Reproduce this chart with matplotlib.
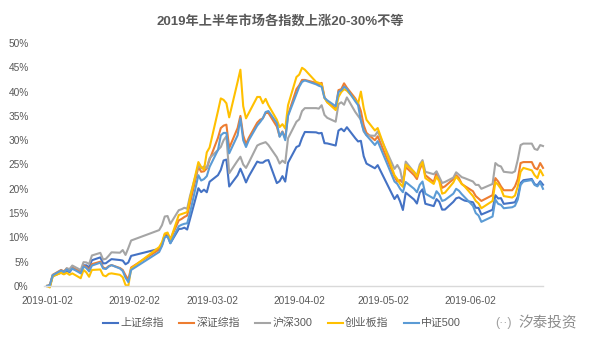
import matplotlib
matplotlib.use("Agg")
import matplotlib.pyplot as plt
import matplotlib.dates as mdates
from matplotlib.ticker import FuncFormatter
import pandas as pd

plt.rcParams['font.family'] = ['Liberation Sans', 'Noto Sans CJK SC']

# trading days, first half of 2019 (day of month per month)
jan_days = [2, 3, 4, 7, 8, 9, 10, 11, 14, 15, 16, 17, 18, 21, 22, 23, 24, 25, 28, 29, 30, 31]
feb_days = [1, 11, 12, 13, 14, 15, 18, 19, 20, 21, 22, 25, 26, 27, 28]
mar_days = [1, 4, 5, 6, 7, 8, 11, 12, 13, 14, 15, 18, 19, 20, 21, 22, 25, 26, 27, 28, 29]
apr_days = [1, 2, 3, 4, 8, 9, 10, 11, 12, 15, 16, 17, 18, 19, 22, 23, 24, 25, 26, 29, 30]
may_days = [6, 7, 8, 9, 10, 13, 14, 15, 16, 17, 20, 21, 22, 23, 24, 27, 28, 29, 30, 31]
jun_days = [3, 4, 5, 6, 10, 11, 12, 13, 14, 17, 18, 19, 20, 21, 24, 25, 26, 27, 28]

# cumulative return since 2019-01-02, in %
sh_comp = [0, -0.04, 2.01, 2.75, 2.48, 3.21, 2.83, 3.59, 2.86, 4.26, 4.26, 3.83, 5.30, 5.89, 4.64, 4.69, 5.13, 5.53, 5.34, 5.23, 4.47, 4.84,
           6.20, 7.65, 8.38, 10.38, 10.32, 8.81, 11.73, 11.78, 12.00, 11.62, 13.75, 20.12, 19.32, 19.82, 19.29,
           21.45, 22.81, 23.89, 25.83, 26.01, 20.47, 22.78, 24.14, 22.78, 21.31, 22.57, 25.60, 25.38, 25.37, 25.80, 25.91, 21.17, 21.57, 22.61, 21.48, 25.37,
           28.60, 28.86, 30.46, 31.69, 31.62, 31.41, 31.50, 29.39, 29.34, 28.90, 31.98, 32.36, 31.84, 32.67, 30.41, 29.74, 29.87, 26.71, 25.19, 24.22, 24.87,
           17.90, 18.71, 17.38, 15.64, 19.22, 17.78, 16.97, 19.20, 19.89, 16.92, 16.44, 17.88, 17.30, 15.71, 15.73, 17.32, 18.04, 18.23, 17.87, 17.58,
           17.23, 16.10, 16.07, 14.70, 15.69, 18.68, 18.01, 18.07, 16.90, 17.13, 17.23, 18.36, 21.17, 21.77, 22.02, 20.96, 20.73, 21.56, 20.83]
sz_comp = [0, 0.3, 2.3, 3.3, 3.0, 3.6, 3.2, 3.8, 2.9, 4.2, 3.9, 3.3, 4.5, 5.0, 3.8, 3.6, 4.1, 4.3, 3.7, 3.3, 2.2, 1.3,
           3.8, 7.5, 8.5, 10.6, 10.8, 9.6, 13.5, 13.8, 14.2, 14.5, 17.0, 24.5, 23.5, 23.6, 24.2,
           26.0, 30.5, 32.5, 33.0, 33.2, 28.4, 32.5, 35.0, 31.0, 29.2, 30.5, 33.6, 34.2, 34.5, 35.6, 35.6, 32.8, 30.8, 31.8, 30.4, 35.2,
           40.5, 41.3, 42.4, 42.4, 41.8, 41.5, 41.8, 38.9, 37.8, 36.5, 40.3, 40.5, 41.7, 40.8, 38.6, 37.6, 36.0, 33.1, 31.5, 30.0, 30.8,
           22.5, 21.5, 21.8, 21.2, 24.5, 22.8, 22.0, 24.0, 25.3, 22.8, 21.4, 23.4, 22.0, 20.2, 20.5, 22.0, 22.8, 22.2, 21.0, 20.6,
           19.5, 18.5, 18.0, 17.5, 18.7, 22.2, 21.5, 20.5, 19.7, 19.7, 20.5, 22.0, 25.3, 25.5, 25.5, 24.3, 24.0, 25.3, 24.3]
hs300 = [0, -0.16, 2.23, 2.85, 2.63, 3.67, 3.47, 4.21, 3.29, 4.91, 4.85, 4.52, 6.28, 6.82, 5.45, 5.60, 6.23, 6.93, 6.85, 7.40, 6.39, 7.82,
         9.36, 11.50, 12.50, 14.30, 14.40, 12.80, 15.60, 15.80, 16.10, 15.90, 18.50, 24.80, 24.20, 24.60, 24.30,
         26.30, 28.00, 28.60, 30.00, 30.80, 23.20, 25.80, 26.60, 25.00, 24.30, 25.40, 28.90, 29.20, 29.40, 29.60, 29.00, 26.50, 25.20, 25.80, 25.30, 30.40,
         33.80, 34.30, 36.00, 36.60, 36.60, 36.50, 37.20, 35.20, 34.60, 33.80, 37.40, 37.80, 37.30, 38.80, 35.80, 35.00, 34.20, 31.80, 31.00, 30.90, 31.80,
         24.10, 24.90, 23.90, 21.20, 25.60, 23.40, 22.80, 25.00, 25.90, 23.50, 23.00, 23.60, 22.40, 21.20, 21.40, 22.30, 23.40, 22.90, 22.40, 22.20,
         21.50, 20.80, 20.80, 20.00, 21.00, 25.30, 24.80, 24.60, 23.50, 23.30, 23.60, 26.00, 29.00, 29.30, 29.30, 28.20, 28.00, 29.00, 28.80]
chinext = [0, -0.3, 2.0, 2.7, 2.4, 2.7, 2.3, 2.6, 1.6, 3.3, 2.8, 1.9, 3.3, 3.4, 2.2, 2.0, 2.5, 2.6, 2.3, 1.8, 0.2, 0.0,
           3.6, 8.0, 9.0, 10.8, 11.0, 9.5, 14.6, 14.8, 15.0, 15.2, 18.0, 25.5, 24.5, 23.9, 27.5,
           28.5, 36.0, 38.6, 38.3, 37.6, 34.7, 42.0, 44.5, 37.0, 34.5, 35.6, 38.9, 38.9, 37.6, 38.5, 37.2, 34.2, 32.7, 33.3, 32.4, 37.2,
           43.0, 43.5, 44.9, 44.5, 42.0, 41.8, 41.5, 38.7, 37.8, 36.2, 38.9, 39.9, 40.5, 40.2, 38.3, 37.5, 40.0, 36.6, 34.2, 32.0, 32.5,
           22.8, 22.0, 21.0, 20.4, 25.0, 23.5, 22.5, 24.5, 25.5, 22.2, 21.0, 22.5, 21.5, 19.0, 19.2, 21.3, 22.5, 21.8, 21.0, 20.5,
           18.5, 17.5, 17.0, 16.0, 17.5, 21.4, 20.8, 20.0, 18.5, 18.2, 18.6, 20.5, 23.5, 24.3, 23.8, 22.8, 22.2, 23.9, 22.8]
csi500 = [0, 0.2, 2.2, 3.2, 2.9, 3.4, 3.0, 3.6, 2.6, 4.0, 3.7, 3.0, 4.2, 4.8, 3.6, 3.5, 4.0, 4.3, 3.6, 3.1, 1.7, 0.8,
          3.3, 7.0, 8.2, 10.0, 10.2, 8.8, 12.3, 12.6, 12.8, 12.9, 15.0, 22.8, 21.7, 22.0, 22.6,
          24.5, 28.0, 31.0, 31.5, 31.5, 27.3, 31.0, 34.5, 30.0, 28.6, 30.0, 33.0, 33.7, 34.5, 35.8, 36.0, 33.5, 30.7, 31.7, 30.0, 35.0,
          39.5, 41.0, 42.0, 42.3, 41.5, 41.2, 41.0, 38.7, 38.2, 37.0, 39.9, 40.3, 41.0, 40.6, 38.0, 37.2, 34.0, 32.0, 31.0, 29.0, 29.8,
          21.5, 21.0, 20.0, 19.3, 21.4, 20.0, 19.3, 20.8, 21.5, 19.0, 18.0, 19.5, 18.8, 17.5, 17.7, 19.0, 20.0, 19.6, 18.9, 18.3,
          16.5, 15.0, 14.5, 13.2, 14.3, 17.8, 16.9, 16.7, 16.0, 16.2, 16.5, 17.8, 20.8, 21.5, 21.8, 20.8, 20.5, 21.3, 20.0]

names = ['上证综指', '深证综指', '沪深300', '创业板指', '中证500']
colors = ['#4472C4', '#ED7D31', '#A5A5A5', '#FFC000', '#5B9BD5']
tick_dates = ['2019-01-02', '2019-02-02', '2019-03-02', '2019-04-02', '2019-05-02', '2019-06-02']

month_days = [jan_days, feb_days, mar_days, apr_days, may_days, jun_days]
dates = pd.to_datetime(['2019-%02d-%02d' % (m + 1, d) for m, days in enumerate(month_days) for d in days])

fig = plt.figure(figsize=(6.01, 3.52), dpi=100)
ax = fig.add_axes([44 / 601, 66 / 352, 499 / 601, 243 / 352])

for vals, name, c in zip([sh_comp, sz_comp, hs300, chinext, csi500], names, colors):
    ax.plot(dates, vals, color=c, lw=1.5, label=name, clip_on=False)

x0 = mdates.date2num(pd.Timestamp('2019-01-02'))
x1 = mdates.date2num(pd.Timestamp('2019-06-28'))
ax.set_xlim(x0 - 1.1, x1)
ax.set_ylim(0, 50)
ax.set_yticks(range(0, 51, 5))
ax.yaxis.set_major_formatter(FuncFormatter(lambda v, p: '%d%%' % v))
ax.set_xticks(pd.to_datetime(tick_dates))
ax.set_xticklabels(tick_dates)
ax.tick_params(length=0, labelsize=7.3, colors='#595959')
ax.tick_params(axis='y', pad=11)
ax.tick_params(axis='x', pad=7)

for s in ['top', 'right', 'left']:
    ax.spines[s].set_visible(False)
ax.spines['bottom'].set_color('#D9D9D9')
ax.spines['bottom'].set_linewidth(1.0)

fig.text(280 / 601, 1 - 21 / 352, '2019年上半年市场各指数上涨20-30%不等', ha='center', va='center',
         fontsize=9.5, fontweight='bold', color='#595959')

leg = fig.legend(loc='center', bbox_to_anchor=(282 / 601, 1 - 323 / 352), ncol=5, frameon=False,
                 fontsize=7.8, handlelength=1.4, handletextpad=0.2, columnspacing=1.4)
for t in leg.get_texts():
    t.set_color('#595959')

# watermark
fig.text(548 / 601, 1 - 323 / 352, '汐泰投资', ha='center', va='center', fontsize=10.5,
         color='#8C8C8C', style='italic')
fig.text(503 / 601, 1 - 323 / 352, '(··)', ha='center', va='center', fontsize=9, color='#A0A0A0')

fig.savefig('out.png', dpi=100)
